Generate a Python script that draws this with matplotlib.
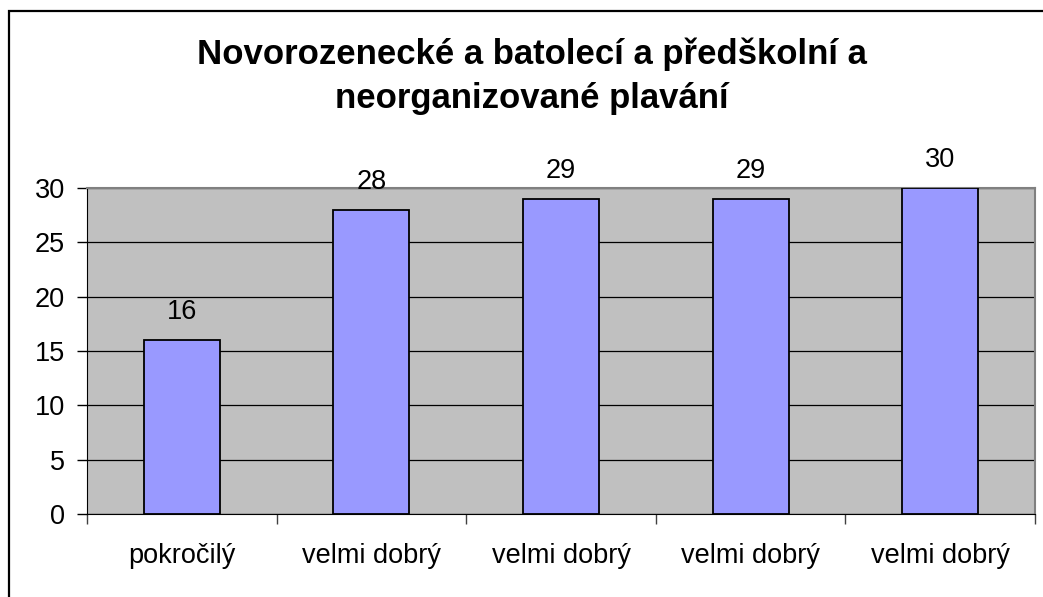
"""
Bar chart - swimming levels (Excel style)
"""
import matplotlib
matplotlib.use('Agg')
import matplotlib.pyplot as plt
from matplotlib.patches import Rectangle

categories = ['pokročilý', 'velmi dobrý', 'velmi dobrý', 'velmi dobrý', 'velmi dobrý']
values = [16, 28, 29, 29, 30]
y_ticks = [0, 5, 10, 15, 20, 25, 30]
title = 'Novorozenecké a batolecí a předškolní a\nneorganizované plavání'

plt.rcParams['font.family'] = ['Liberation Sans', 'DejaVu Sans']

W, H = 1043, 597
fig = plt.figure(figsize=(W / 100, H / 100), dpi=100)

# outer chart frame (right/bottom edges fall outside the image)
fig.patches.append(Rectangle((8.5 / W, -0.1), 1.2, 1 - 10.5 / H + 0.1,
                             transform=fig.transFigure, fill=False,
                             edgecolor='black', linewidth=1.6))

ax = fig.add_axes([87 / W, 1 - 514 / H, (1035 - 87) / W, (514 - 188) / H])
ax.set_facecolor('#C0C0C0')

x = list(range(len(categories)))
bars = ax.bar(x, values, width=0.4, color='#9999FF', edgecolor='black',
              linewidth=1.3, zorder=3)

for xi, v in zip(x, values):
    ax.annotate(str(v), (xi, v), xytext=(0, 15), textcoords='offset points',
                ha='center', va='baseline', fontsize=19.5)

ax.set_xlim(-0.5, len(categories) - 0.5)
ax.set_ylim(0, 30)
ax.set_yticks(y_ticks)
ax.yaxis.grid(True, color='black', linewidth=0.9, zorder=1)
ax.set_axisbelow(True)

ax.set_xticks(x)
ax.set_xticklabels(categories, fontsize=19.5)
ax.tick_params(axis='x', length=0, pad=21)
ax.set_xticks([i - 0.5 for i in range(len(categories) + 1)], minor=True)
ax.tick_params(axis='x', which='minor', length=7, width=1, color='#404040',
               direction='out')
ax.tick_params(axis='y', labelsize=19.5, length=7, width=1, pad=9, color='black')

for side in ['top', 'right']:
    ax.spines[side].set_color('#808080')
    ax.spines[side].set_linewidth(1.5)
ax.spines['left'].set_color('black')
ax.spines['bottom'].set_color('black')

fig.text(532 / W, 1 - 64 / H, 'Novorozenecké a batolecí a předškolní a',
         ha='center', va='baseline', fontsize=25, fontweight='bold')
fig.text(532 / W, 1 - 108 / H, 'neorganizované plavání',
         ha='center', va='baseline', fontsize=25, fontweight='bold')

plt.savefig('out.png', dpi=100)
plt.close()
